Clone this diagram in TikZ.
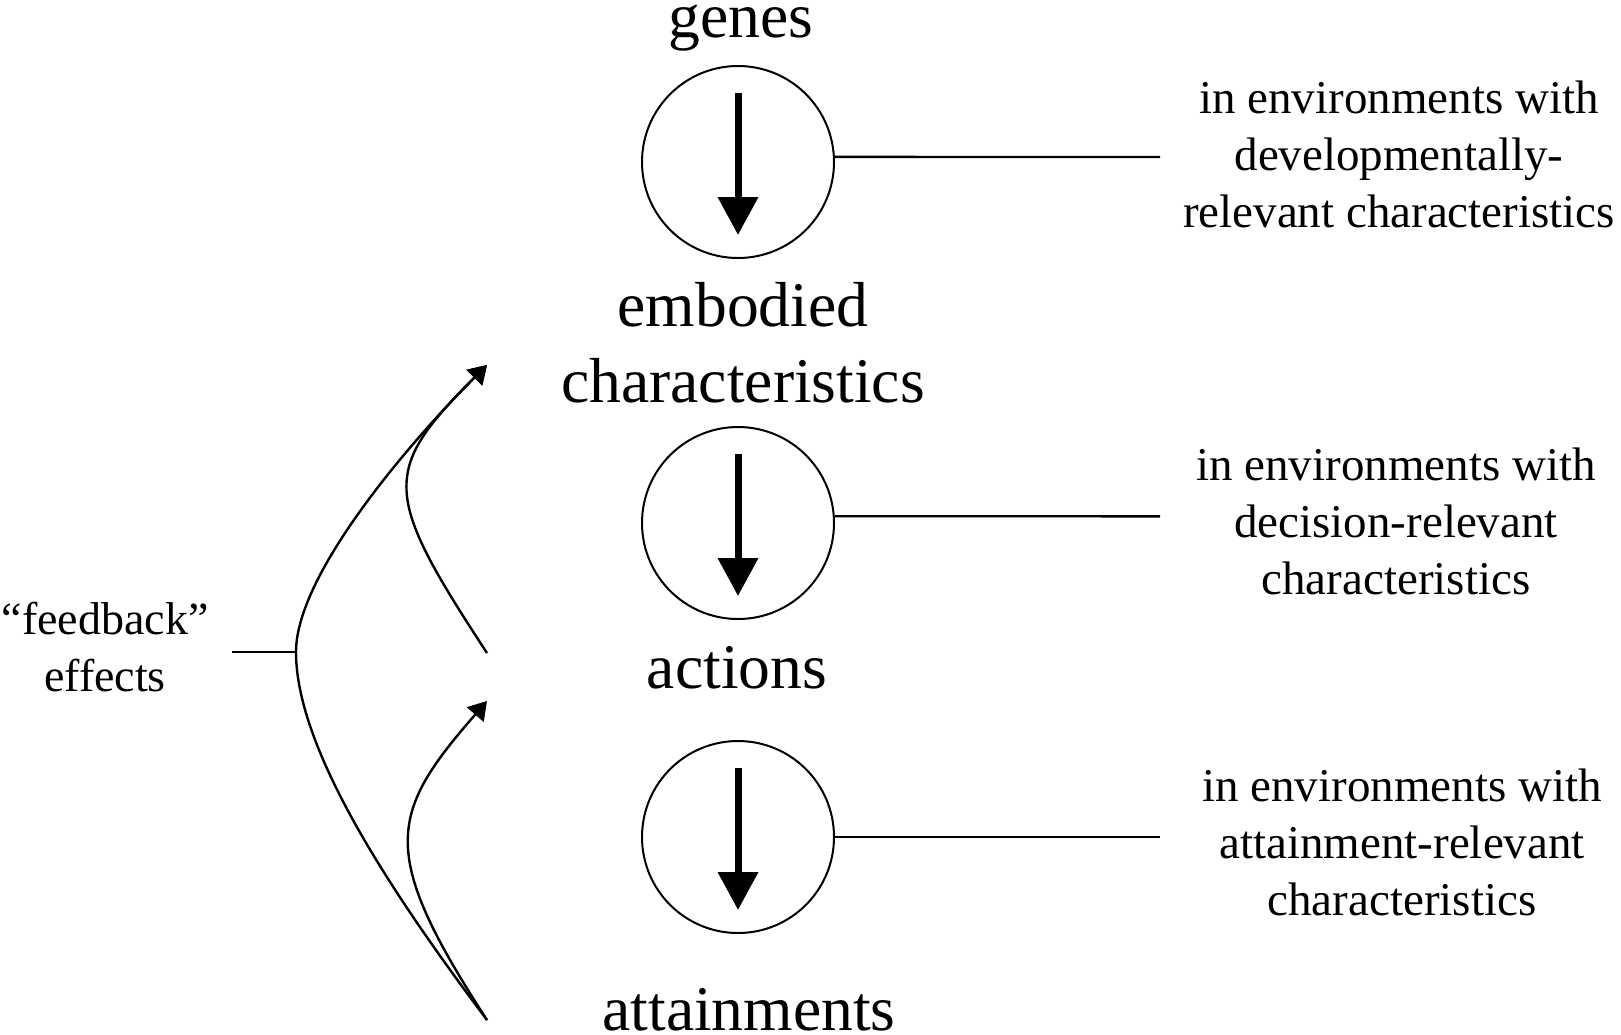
\documentclass[tikz,border=0pt]{standalone}
\usepackage{fontspec}
\setmainfont{Liberation Serif}
\usetikzlibrary{arrows.meta}
\begin{document}
\begin{tikzpicture}[x=0.5pt,y=-0.5pt,
  bigtext/.style={font=\fontsize{31.8}{38}\selectfont, inner sep=0pt, align=center},
  smalltext/.style={font=\fontsize{23.5}{28.5}\selectfont, inner sep=0pt, align=center},
  stagecircle/.style={circle, draw, line width=1pt, minimum size=96pt, inner sep=0pt},
  downarrow/.style={line width=3.5pt, -{Triangle[length=19pt,width=19.5pt]}},
  envline/.style={line width=1.2pt},
  fbline/.style={line width=1.2pt, -{Triangle[length=9pt,width=11pt]}},
]
\useasboundingbox (0,0) rectangle (1621,1034);

% stage circles
\node[stagecircle] (c1) at (738,162) {};
\node[stagecircle] (c2) at (738,523) {};
\node[stagecircle] (c3) at (738,837) {};
\draw[downarrow] ([yshift=34.5pt]c1.center) -- ([yshift=-36.5pt]c1.center);
\draw[downarrow] ([yshift=34.5pt]c2.center) -- ([yshift=-36.5pt]c2.center);
\draw[downarrow] ([yshift=34.5pt]c3.center) -- ([yshift=-36.5pt]c3.center);

% stage labels
\node[bigtext, anchor=base] (genes) at (741,37) {genes};
\node[bigtext] (embodied) at (743,343) {embodied\\characteristics};
\node[bigtext, anchor=base] (actions) at (737,688) {actions};
\node[bigtext, anchor=base] (attain) at (749,1030) {attainments};

% environment texts and lines
\node[smalltext] (env1) at (1399,154.5) {in environments with\\developmentally-\\relevant characteristics};
\node[smalltext] (env2) at (1396,521.5) {in environments with\\decision-relevant\\characteristics};
\node[smalltext] (env3) at (1402,842) {in environments with\\attainment-relevant\\characteristics};
\coordinate (e1) at (1160,157);
\coordinate (e2) at (1160,516.3);
\coordinate (e3) at (1160,837);
\draw[envline] (c1.3) -- (e1);
\draw[envline] (c2.4) -- (e2);
\draw[envline] (c3.east) -- (e3);

% feedback
\node[font=\fontsize{23}{28.5}\selectfont, align=center, inner sep=0pt] (fb) at (105,647) {“feedback”\\effects};
\coordinate (fbend) at (232,652);
\coordinate (J) at (296,652);
\coordinate (T1) at (487,365);
\coordinate (M) at (487,653);
\coordinate (T2) at (487,701);
\coordinate (B) at (487,1020);
\draw[envline] (fbend) -- (J);
\draw[fbline] (B) .. controls (397,900) and (296,752) .. (J) .. controls (296,572) and (416,436) .. (T1);
\draw[fbline] (M) .. controls (382.5,493.4) and (381,471) .. (T1);
\draw[fbline] (B) .. controls (378,852) and (388.5,814) .. (T2);
\end{tikzpicture}
\end{document}
